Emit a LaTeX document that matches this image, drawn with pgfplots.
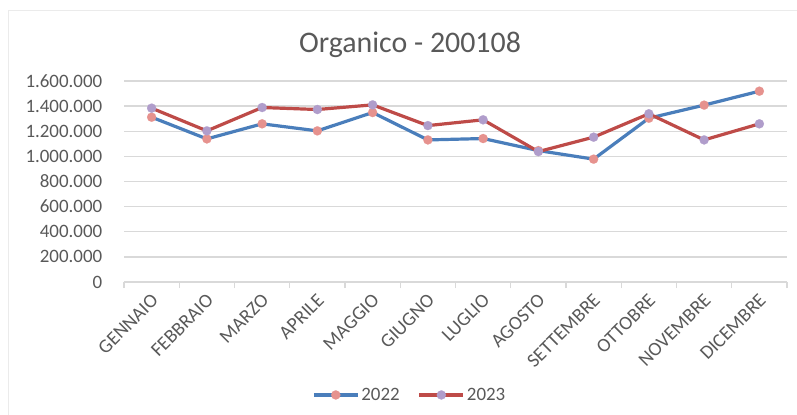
\documentclass[border=0pt]{standalone}
\usepackage{pgfplots}
\pgfplotsset{compat=1.18}
\usepackage{fontspec}
\setmainfont{Carlito}
\definecolor{txt}{HTML}{595959}
\definecolor{grid}{HTML}{D9D9D9}
\definecolor{blueL}{HTML}{4A7EBB}
\definecolor{redL}{HTML}{BE4B48}
\definecolor{pinkM}{HTML}{E6928E}
\definecolor{purpM}{HTML}{B09DCB}
\begin{document}
\begin{tikzpicture}
\useasboundingbox (0bp,0bp) rectangle (797bp,415bp);
\draw[color=black!8, line width=1bp] (8bp,0bp) -- (8bp,404bp) -- (797bp,404bp);
\node[text=txt, font=\fontsize{30}{36}\selectfont] at (410bp,370bp) {Organico - 200108};
\begin{axis}[
  at={(124bp,133bp)}, anchor=south west,
  scale only axis, width=663bp, height=201bp,
  xmin=-0.5, xmax=11.5, ymin=0, ymax=1600000,
  xtick={0,...,11},
  xticklabels={GENNAIO,FEBBRAIO,MARZO,APRILE,MAGGIO,GIUGNO,LUGLIO,AGOSTO,SETTEMBRE,OTTOBRE,NOVEMBRE,DICEMBRE},
  minor xtick={-0.5,0.5,...,11.5},
  major x tick style={draw=none},
  minor x tick style={draw=grid, line width=1.2bp},
  minor tick length=6bp,
  tick align=outside,
  ytick={0,200000,400000,600000,800000,1000000,1200000,1400000,1600000},
  yticklabels={0,200.000,400.000,600.000,800.000,1.000.000,1.200.000,1.400.000,1.600.000},
  ytick style={draw=none},
  ymajorgrids, grid style={draw=grid, line width=1.3bp},
  scaled y ticks=false,
  axis lines*=left,
  y axis line style={draw=none},
  x axis line style={draw=grid, line width=1.3bp},
  yticklabel style={text=txt, font=\fontsize{19}{22}\selectfont, xshift=-14bp},
  xticklabel style={text=txt, font=\fontsize{19.5}{20}\selectfont, rotate=45, anchor=east, xshift=-2bp, yshift=-10bp},
  legend columns=2,
  legend style={at={(0.431,-0.562)}, anchor=center, draw=none, fill=none,
    font=\fontsize{19}{22}\selectfont, text=txt,
    /tikz/every even column/.append style={column sep=16bp}},
  legend image code/.code={\draw[mark repeat=2,mark phase=2,#1] plot coordinates {(0bp,0bp) (22bp,0bp) (44bp,0bp)};},
]
\addplot[blueL, line width=3.2bp, mark=*, mark size=4.6bp, mark options={draw=pinkM, line width=0.1bp, fill=pinkM}] coordinates {
(0,1312000) (1,1139000) (2,1259000) (3,1203000) (4,1349000) (5,1131000)
(6,1142000) (7,1046000) (8,978000) (9,1304000) (10,1408000) (11,1519000)};
\addlegendentry{2022}
\addplot[redL, line width=3.2bp, mark=*, mark size=4.6bp, mark options={draw=purpM, line width=0.1bp, fill=purpM}] coordinates {
(0,1384000) (1,1203000) (2,1389000) (3,1373000) (4,1410000) (5,1245000)
(6,1291000) (7,1038000) (8,1153000) (9,1339000) (10,1131000) (11,1259000)};
\addlegendentry{2023}
\end{axis}
\end{tikzpicture}
\end{document}
